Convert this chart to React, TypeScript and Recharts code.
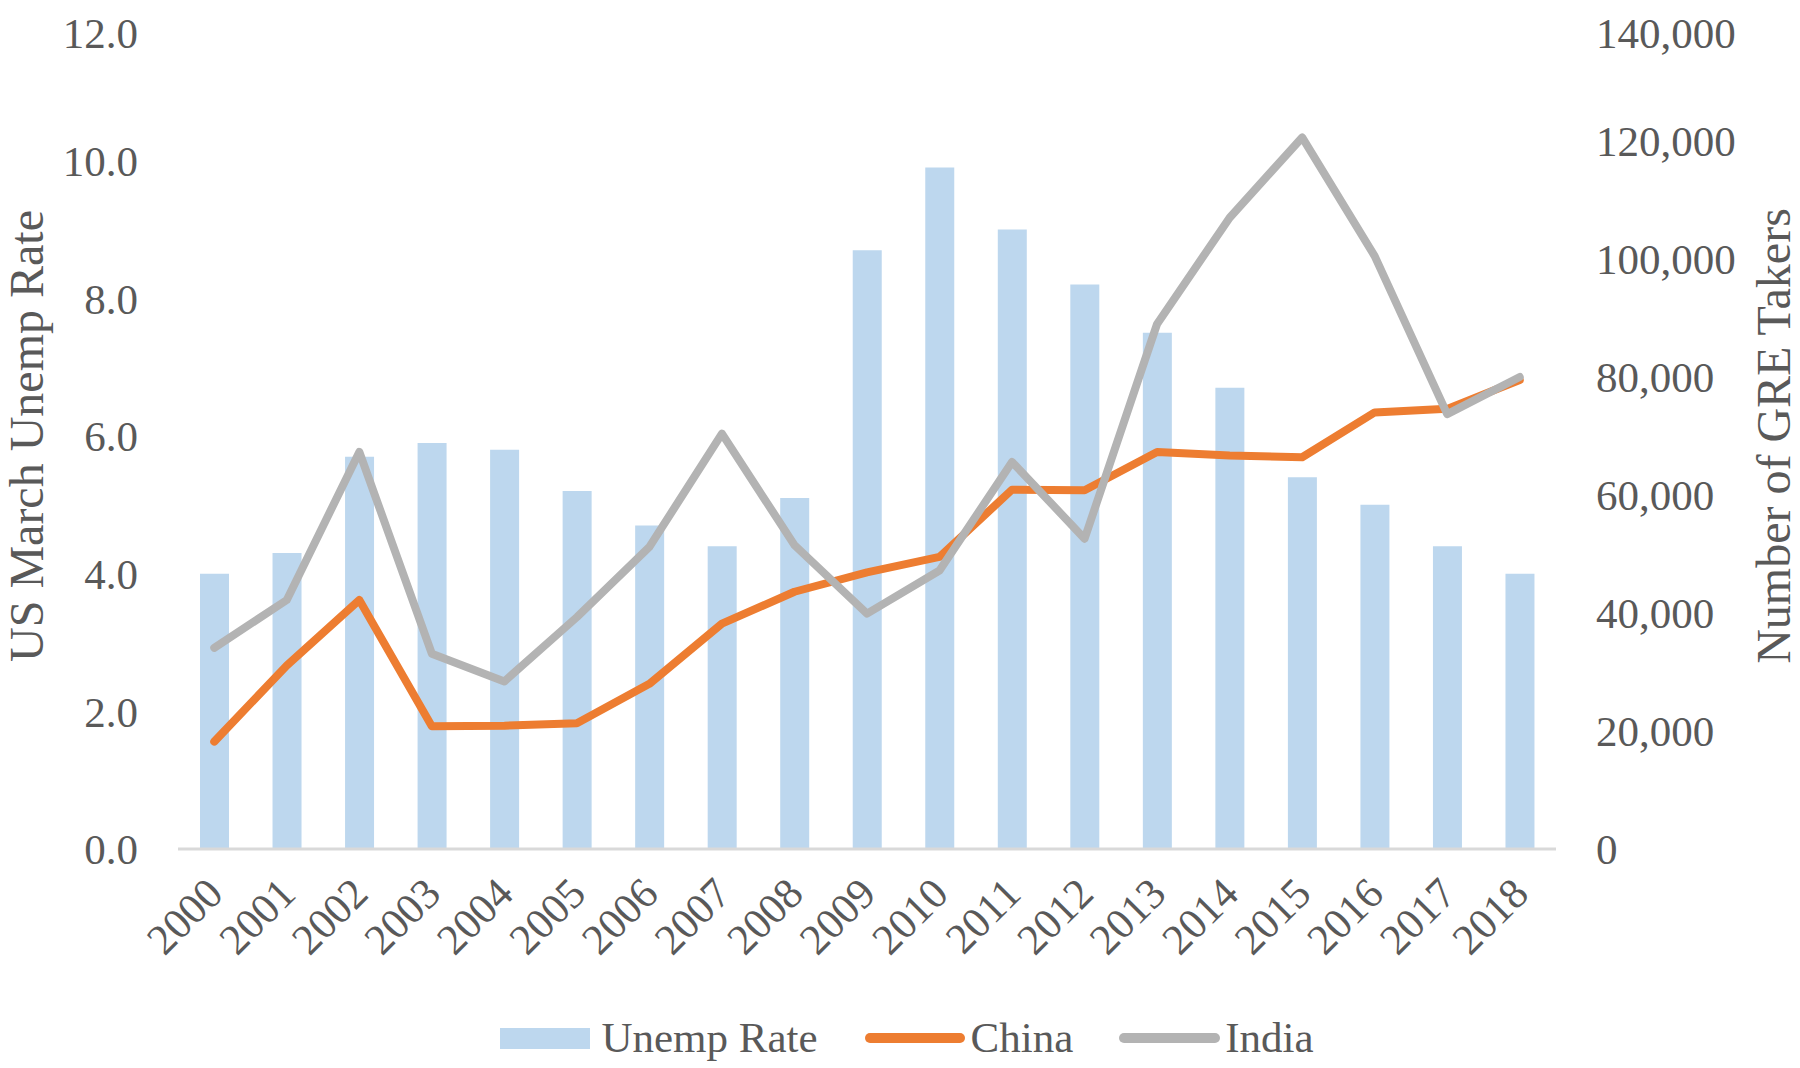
import React from "react";
import {
  ComposedChart,
  Bar,
  Line,
  XAxis,
  YAxis,
  Legend
} from "recharts";

const YEARS = [
  "2000", "2001", "2002", "2003", "2004", "2005", "2006", "2007", "2008", "2009",
  "2010", "2011", "2012", "2013", "2014", "2015", "2016", "2017", "2018"
];

// US March unemployment rate (%)
const UNEMP_RATE = [4.0, 4.3, 5.7, 5.9, 5.8, 5.2, 4.7, 4.4, 5.1, 8.7, 9.9, 9.0, 8.2, 7.5, 6.7, 5.4, 5.0, 4.4, 4.0];

// GRE takers
const CHINA = [18200, 31100, 42200, 20800, 20900, 21300, 28000, 38200, 43600, 46900, 49500, 60900, 60800, 67300, 66700, 66400, 74000, 74600, 79500];
const INDIA = [34100, 42200, 67300, 33100, 28400, 39300, 51200, 70400, 51500, 39900, 47200, 65600, 52600, 89000, 107000, 120600, 100500, 73700, 80000];

const LEFT_TICKS = [0, 2, 4, 6, 8, 10, 12];
const RIGHT_TICKS = [0, 20000, 40000, 60000, 80000, 100000, 120000, 140000];

const FONT = '"Liberation Serif", "Times New Roman", serif';
const TEXT = "#595959";
const BAR_COLOR = "#bdd7ee";
const CHINA_COLOR = "#ed7d31";
const INDIA_COLOR = "#b3b3b3";

const data = YEARS.map((year, i) => ({
  year,
  rate: UNEMP_RATE[i],
  china: CHINA[i],
  india: INDIA[i]
}));

const YearTick = ({ x, y, payload }: any) => (
  <text
    transform={`translate(${x + 11},${y + 47}) rotate(-45)`}
    textAnchor="end"
    fontSize={43}
    fontFamily={FONT}
    fill={TEXT}
  >
    {payload.value}
  </text>
);

// rotated axis title, centred on the axis area
const AxisTitle = ({ viewBox, text, offset }: any) => {
  const cx = (viewBox?.x ?? 0) + offset;
  const cy = (viewBox?.y ?? 15) + (viewBox?.height ?? 826) / 2;
  return (
    <text
      x={cx}
      y={cy}
      transform={`rotate(-90, ${cx}, ${cy})`}
      textAnchor="middle"
      dominantBaseline="central"
      fontSize={48}
      fontFamily={FONT}
      fill={TEXT}
    >
      {text}
    </text>
  );
};

const LegendContent = () => (
  <div
    style={{
      display: "flex",
      justifyContent: "center",
      alignItems: "center",
      height: 50,
      paddingLeft: 14,
      fontFamily: FONT,
      fontSize: 43,
      color: TEXT,
      lineHeight: "50px"
    }}
  >
    <span style={{ width: 90, height: 21, background: BAR_COLOR, marginRight: 11 }} />
    <span style={{ marginRight: 47 }}>Unemp Rate</span>
    <span style={{ width: 100, height: 10, borderRadius: 5, background: CHINA_COLOR, marginRight: 6 }} />
    <span style={{ marginRight: 46 }}>China</span>
    <span style={{ width: 101, height: 10, borderRadius: 5, background: INDIA_COLOR, marginRight: 5 }} />
    <span>India</span>
  </div>
);

export default function App() {
  return (
    <ComposedChart
      width={1784}
      height={1060}
      data={data}
      margin={{ top: 15, right: 0, bottom: 5, left: 0 }}
    >
      <XAxis
        dataKey="year"
        height={164}
        interval={0}
        tick={<YearTick />}
        tickLine={false}
        tickSize={0}
        tickMargin={0}
        axisLine={{ stroke: "#d9d9d9", strokeWidth: 3 }}
      />
      <YAxis
        yAxisId="left"
        width={170}
        domain={[0, 12]}
        ticks={LEFT_TICKS}
        tickFormatter={(v: number) => v.toFixed(1)}
        axisLine={false}
        tickLine={false}
        tickSize={0}
        tickMargin={40}
        tick={{ fontSize: 43, fontFamily: FONT, fill: TEXT }}
        label={(props: any) => <AxisTitle {...props} text="US March Unemp Rate" offset={18} />}
      />
      <YAxis
        yAxisId="right"
        orientation="right"
        width={236}
        domain={[0, 140000]}
        ticks={RIGHT_TICKS}
        tickFormatter={(v: number) => v.toLocaleString("en-US")}
        axisLine={false}
        tickLine={false}
        tickSize={0}
        tickMargin={40}
        tick={{ fontSize: 43, fontFamily: FONT, fill: TEXT, textAnchor: "start" }}
        label={(props: any) => <AxisTitle {...props} text="Number of GRE Takers" offset={217} />}
      />
      <Legend verticalAlign="bottom" content={<LegendContent />} />
      <Bar
        yAxisId="left"
        dataKey="rate"
        name="Unemp Rate"
        fill={BAR_COLOR}
        barSize={29}
        isAnimationActive={false}
      />
      <Line
        yAxisId="right"
        dataKey="china"
        name="China"
        type="linear"
        stroke={CHINA_COLOR}
        strokeWidth={8}
        strokeLinecap="round"
        strokeLinejoin="round"
        dot={false}
        activeDot={false}
        isAnimationActive={false}
      />
      <Line
        yAxisId="right"
        dataKey="india"
        name="India"
        type="linear"
        stroke={INDIA_COLOR}
        strokeWidth={8}
        strokeLinecap="round"
        strokeLinejoin="round"
        dot={false}
        activeDot={false}
        isAnimationActive={false}
      />
    </ComposedChart>
  );
}
